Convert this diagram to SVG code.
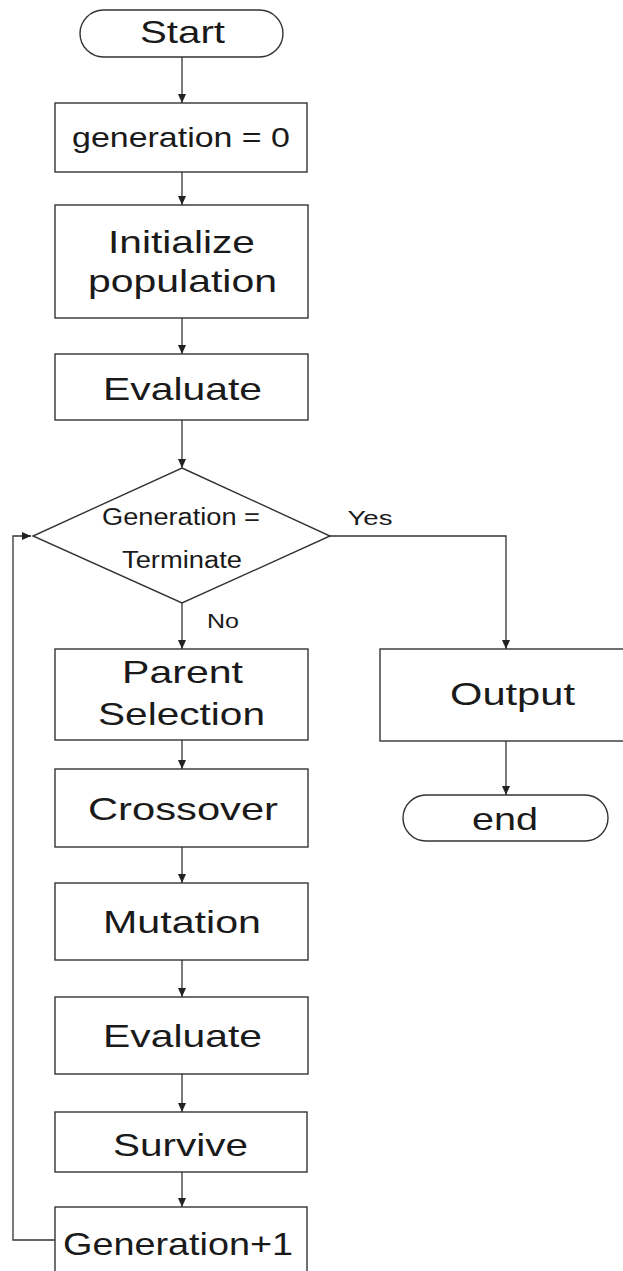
<svg xmlns="http://www.w3.org/2000/svg" width="623" height="1271" viewBox="0 0 623 1271">
<style>
.box{fill:#fff;stroke:#333;stroke-width:1.4}
.ln{fill:none;stroke:#333;stroke-width:1.3}
text{font-family:"Liberation Sans",Arial,sans-serif;fill:#1a1a1a;text-anchor:middle}
.t32{font-size:32px}
.t28{font-size:28px}
.t23{font-size:23px}
.t21{font-size:21px}
</style>
<defs>
<marker id="ah" markerWidth="10" markerHeight="8" refX="9" refY="4" orient="auto" markerUnits="userSpaceOnUse">
<path d="M0,0 L9,4 L0,8 Z" fill="#222"/>
</marker>
</defs>
<rect width="623" height="1271" fill="#fff"/>
<g id="connectors">
<line class="ln" x1="182" y1="57" x2="182" y2="103" marker-end="url(#ah)"/>
<line class="ln" x1="182" y1="172" x2="182" y2="205" marker-end="url(#ah)"/>
<line class="ln" x1="182" y1="318" x2="182" y2="354" marker-end="url(#ah)"/>
<line class="ln" x1="182" y1="420" x2="182" y2="468" marker-end="url(#ah)"/>
<line class="ln" x1="182" y1="603" x2="182" y2="649" marker-end="url(#ah)"/>
<line class="ln" x1="182" y1="740" x2="182" y2="769" marker-end="url(#ah)"/>
<line class="ln" x1="182" y1="847" x2="182" y2="883" marker-end="url(#ah)"/>
<line class="ln" x1="182" y1="960" x2="182" y2="997" marker-end="url(#ah)"/>
<line class="ln" x1="182" y1="1074" x2="182" y2="1112" marker-end="url(#ah)"/>
<line class="ln" x1="182" y1="1172" x2="182" y2="1207" marker-end="url(#ah)"/>
<polyline class="ln" points="330,536 506,536 506,649" marker-end="url(#ah)"/>
<line class="ln" x1="506" y1="741" x2="506" y2="795" marker-end="url(#ah)"/>
<polyline class="ln" points="55,1240 13,1240 13,536 31,536" marker-end="url(#ah)"/>
<text class="t21" x="370" y="525" textLength="45" lengthAdjust="spacingAndGlyphs">Yes</text>
<text class="t21" x="223" y="628" textLength="32" lengthAdjust="spacingAndGlyphs">No</text>
</g>
<g id="start">
<rect class="box" x="80" y="10" width="203" height="47" rx="23.5"/>
<text class="t32" x="182.5" y="43" textLength="85" lengthAdjust="spacingAndGlyphs">Start</text>
</g>
<g id="gen0">
<rect class="box" x="55" y="103" width="252" height="69"/>
<text class="t28" x="181" y="147" textLength="218" lengthAdjust="spacingAndGlyphs">generation = 0</text>
</g>
<g id="init">
<rect class="box" x="55" y="205" width="253" height="113"/>
<text class="t32" x="181.5" y="253" textLength="147" lengthAdjust="spacingAndGlyphs">Initialize</text>
<text class="t32" x="182.5" y="292" textLength="189" lengthAdjust="spacingAndGlyphs">population</text>
</g>
<g id="evaluate1">
<rect class="box" x="55" y="354" width="253" height="66"/>
<text class="t32" x="182.5" y="400" textLength="159" lengthAdjust="spacingAndGlyphs">Evaluate</text>
</g>
<g id="decision">
<polygon class="box" points="182,468 330,536 182,603 33,536"/>
<text class="t23" x="181" y="525" textLength="158" lengthAdjust="spacingAndGlyphs">Generation =</text>
<text class="t23" x="182" y="568" textLength="120" lengthAdjust="spacingAndGlyphs">Terminate</text>
</g>
<g id="parent">
<rect class="box" x="55" y="649" width="253" height="91"/>
<text class="t32" x="182.5" y="683" textLength="121" lengthAdjust="spacingAndGlyphs">Parent</text>
<text class="t32" x="181.5" y="725" textLength="167" lengthAdjust="spacingAndGlyphs">Selection</text>
</g>
<g id="crossover">
<rect class="box" x="55" y="769" width="253" height="78"/>
<text class="t32" x="183" y="820" textLength="190" lengthAdjust="spacingAndGlyphs">Crossover</text>
</g>
<g id="mutation">
<rect class="box" x="55" y="883" width="253" height="77"/>
<text class="t32" x="182" y="933" textLength="158" lengthAdjust="spacingAndGlyphs">Mutation</text>
</g>
<g id="evaluate2">
<rect class="box" x="55" y="997" width="253" height="77"/>
<text class="t32" x="182.5" y="1047" textLength="159" lengthAdjust="spacingAndGlyphs">Evaluate</text>
</g>
<g id="survive">
<rect class="box" x="55" y="1112" width="252" height="60"/>
<text class="t32" x="180.5" y="1156" textLength="135" lengthAdjust="spacingAndGlyphs">Survive</text>
</g>
<g id="gen1">
<rect class="box" x="55" y="1207" width="252" height="80"/>
<text class="t32" x="178" y="1255" textLength="230" lengthAdjust="spacingAndGlyphs">Generation+1</text>
</g>
<g id="output">
<rect class="box" x="380" y="649" width="260" height="92"/>
<text class="t32" x="512.5" y="705" textLength="125" lengthAdjust="spacingAndGlyphs">Output</text>
</g>
<g id="end">
<rect class="box" x="403" y="795" width="205" height="46" rx="23"/>
<text class="t32" x="505" y="830" textLength="66" lengthAdjust="spacingAndGlyphs">end</text>
</g>
</svg>
